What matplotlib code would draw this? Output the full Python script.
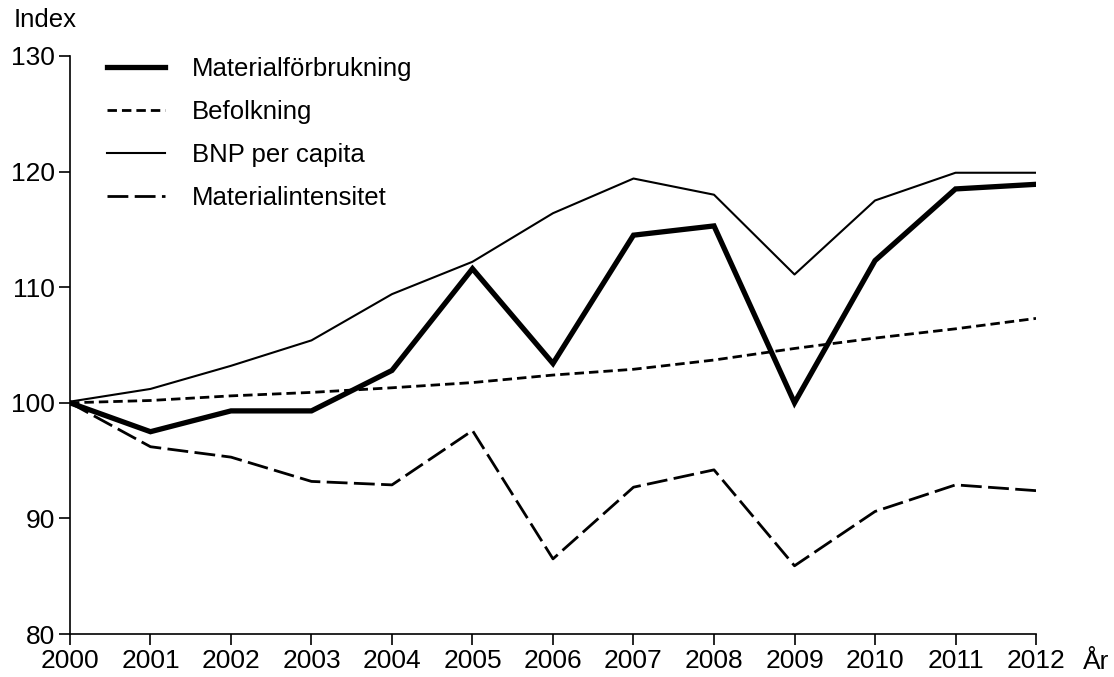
import matplotlib
matplotlib.use("Agg")
import matplotlib.pyplot as plt

plt.rcParams['font.family'] = ['Liberation Sans', 'DejaVu Sans']

years = list(range(2000, 2013))
materialforbrukning = [100.0, 97.5, 99.3, 99.3, 102.8, 111.6, 103.4, 114.5, 115.3, 100.0, 112.3, 118.5, 118.9]
befolkning = [100.0, 100.2, 100.6, 100.9, 101.3, 101.75, 102.4, 102.9, 103.7, 104.7, 105.6, 106.4, 107.3]
bnp_per_capita = [100.1, 101.2, 103.2, 105.4, 109.4, 112.2, 116.4, 119.4, 118.0, 111.1, 117.5, 119.9, 119.9]
materialintensitet = [100.0, 96.2, 95.3, 93.2, 92.9, 97.6, 86.5, 92.7, 94.2, 85.9, 90.6, 92.9, 92.4]

labels = ["Materialförbrukning", "Befolkning", "BNP per capita", "Materialintensitet"]
yticks = [80, 90, 100, 110, 120, 130]

fig = plt.figure(figsize=(11.14, 6.77), dpi=100)
ax = fig.add_axes([0.0628, 0.0635, 0.8672, 0.8538])

ax.plot(years, materialforbrukning, color='black', lw=3.8, solid_joinstyle='miter', label=labels[0])
ax.plot(years, befolkning, color='black', lw=2.0, dashes=(3.4, 1.8), label=labels[1])
ax.plot(years, bnp_per_capita, color='black', lw=1.5, label=labels[2])
ax.plot(years, materialintensitet, color='black', lw=2.0, dashes=(7.5, 2.3), label=labels[3])

ax.set_xlim(2000, 2012)
ax.set_ylim(80, 130)
ax.set_xticks(years)
ax.set_yticks(yticks)
ax.tick_params(direction='out', length=8, width=1.2, labelsize=19, pad=3)
for s in ['top', 'right']:
    ax.spines[s].set_visible(False)
for s in ['left', 'bottom']:
    ax.spines[s].set_linewidth(1.2)

leg = ax.legend(loc='upper left', bbox_to_anchor=(0.0277, 1.016), frameon=False,
                fontsize=18.5, handlelength=2.25, handletextpad=1.05, labelspacing=0.74,
                borderaxespad=0)

fig.text(14/1114, 1 - 20/677, "Index", fontsize=18.5, va='center', ha='left')
fig.text(1083/1114, 1 - 662/677, "År", fontsize=19, va='center', ha='left')

fig.savefig("out.png", dpi=100)
